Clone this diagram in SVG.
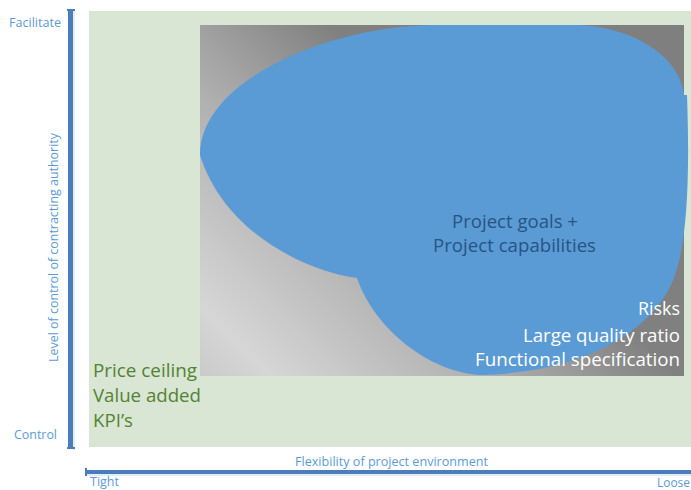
<svg xmlns="http://www.w3.org/2000/svg" width="691" height="490" viewBox="0 0 691 490">
<defs>
<linearGradient id="gray" gradientUnits="userSpaceOnUse" x1="200" y1="376" x2="618" y2="-42">
<stop offset="0" stop-color="#cacaca"/>
<stop offset="0.085" stop-color="#d6d6d6"/>
<stop offset="0.34" stop-color="#b0b0b0"/>
<stop offset="0.42" stop-color="#a0a0a0"/>
<stop offset="0.575" stop-color="#808080"/>
<stop offset="1" stop-color="#7f7f7f"/>
</linearGradient>
<style>
.ax{font-family:"Open Sans","Liberation Sans",sans-serif;font-size:12px;fill:#5b9bd5}
.big{font-family:"Open Sans","Liberation Sans",sans-serif;font-size:18px}
.bar{fill:#4a7ebb}
</style>
</defs>
<rect width="691" height="490" fill="#ffffff"/>
<g id="field">
<rect x="89" y="11" width="602" height="436" fill="#d8e6d3"/>
</g>
<g id="gradient-box">
<rect x="200" y="25" width="484" height="351" fill="url(#gray)"/>
</g>
<g id="blob">
<path d="M200,155 C200,80 330,25 437,25 L572,25 C630,25 680,55 684,95 L687,95 C690,180 687,240 675,275 C660,320 600,372 480,375 C430,372 375,330 357,278 C310,272 225,235 200,155 Z" fill="#5b9bd5"/>
<text class="big" x="452" y="228" fill="#275484" textLength="126" lengthAdjust="spacingAndGlyphs">Project goals +</text>
<text class="big" x="433" y="252" fill="#275484" textLength="163" lengthAdjust="spacingAndGlyphs">Project capabilities</text>
</g>
<g id="right-labels" fill="#ffffff">
<text class="big" x="638" y="315" textLength="42" lengthAdjust="spacingAndGlyphs">Risks</text>
<text class="big" x="523" y="342" textLength="157" lengthAdjust="spacingAndGlyphs">Large quality ratio</text>
<text class="big" x="475" y="366" textLength="205" lengthAdjust="spacingAndGlyphs">Functional specification</text>
</g>
<g id="left-labels" fill="#548235">
<text class="big" x="93" y="377" textLength="104" lengthAdjust="spacingAndGlyphs">Price ceiling</text>
<text class="big" x="93" y="402" textLength="108" lengthAdjust="spacingAndGlyphs">Value added</text>
<text class="big" x="93" y="427" textLength="40" lengthAdjust="spacingAndGlyphs">KPI’s</text>
</g>
<g id="axes">
<rect x="73" y="10" width="2" height="440" fill="#e4edf7"/>
<rect class="bar" x="68" y="10" width="5" height="439"/>
<rect class="bar" x="67" y="9" width="8" height="2"/>
<rect class="bar" x="67" y="447" width="8" height="2"/>
<rect x="86" y="474" width="605" height="2" fill="#e4edf7"/>
<rect class="bar" x="86" y="470" width="605" height="4"/>
<rect class="bar" x="85" y="468" width="2" height="8"/>
</g>
<g id="axis-labels">
<text class="ax" x="9" y="27" textLength="52" lengthAdjust="spacingAndGlyphs">Facilitate</text>
<text class="ax" x="14" y="439" textLength="43" lengthAdjust="spacingAndGlyphs">Control</text>
<text class="ax" transform="translate(58,362) rotate(-90)" x="0" y="0" textLength="229" lengthAdjust="spacingAndGlyphs">Level of control of contracting authority</text>
<text class="ax" x="295" y="466" textLength="193" lengthAdjust="spacingAndGlyphs">Flexibility of project environment</text>
<text class="ax" x="90" y="486" textLength="29" lengthAdjust="spacingAndGlyphs">Tight</text>
<text class="ax" x="657" y="487" textLength="33" lengthAdjust="spacingAndGlyphs">Loose</text>
</g>
</svg>
